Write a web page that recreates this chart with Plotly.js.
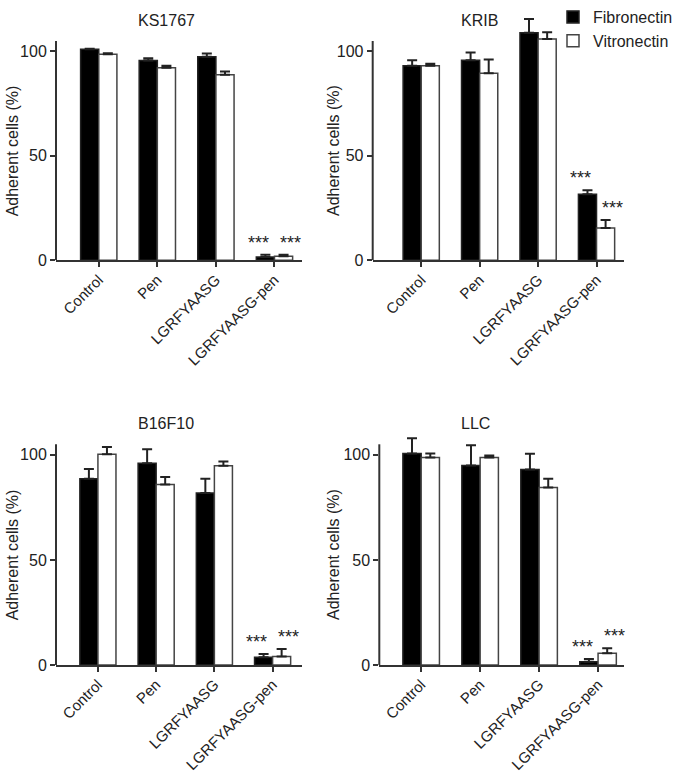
<!DOCTYPE html>
<html>
<head>
<meta charset="utf-8">
<script src="https://cdn.plot.ly/plotly-3.0.1.min.js"></script>
<style>html,body{margin:0;padding:0;background:#fff;}#chart{width:675px;height:774px;}</style>
</head>
<body>
<div id="chart"></div>
<script>
// ---- data ----
const categories = ['Control', 'Pen', 'LGRFYAASG', 'LGRFYAASG-pen'];
const seriesNames = ['Fibronectin', 'Vitronectin'];
const panelTitles = ['KS1767', 'KRIB', 'B16F10', 'LLC'];
const yTitle = 'Adherent cells (%)';
const yTicks = [0, 50, 100];
const sigLabel = '***';
const sigIndex = 3;

const ks1767Fib = [101.0, 95.7, 97.4, 1.6];
const ks1767FibErr = [0.3, 1.0, 1.6, 1.1];
const ks1767Vit = [98.6, 92.2, 88.8, 1.9];
const ks1767VitErr = [0.5, 0.9, 1.6, 0.8];

const kribFib = [93.1, 95.8, 108.9, 31.6];
const kribFibErr = [2.7, 3.7, 6.6, 1.9];
const kribVit = [93.1, 89.5, 106.0, 15.5];
const kribVitErr = [1.0, 6.7, 3.2, 3.8];

const b16f10Fib = [88.6, 96.0, 81.8, 3.7];
const b16f10FibErr = [4.7, 6.7, 6.8, 1.5];
const b16f10Vit = [100.3, 85.9, 94.8, 4.0];
const b16f10VitErr = [3.4, 3.5, 2.0, 3.6];

const llcFib = [100.6, 94.9, 93.0, 1.6];
const llcFibErr = [7.3, 9.7, 7.5, 1.3];
const llcVit = [98.7, 98.7, 84.4, 5.6];
const llcVitErr = [1.9, 1.0, 4.2, 2.4];

const panels = [
  {fib: ks1767Fib, fibErr: ks1767FibErr, vit: ks1767Vit, vitErr: ks1767VitErr},
  {fib: kribFib, fibErr: kribFibErr, vit: kribVit, vitErr: kribVitErr},
  {fib: b16f10Fib, fibErr: b16f10FibErr, vit: b16f10Vit, vitErr: b16f10VitErr},
  {fib: llcFib, fibErr: llcFibErr, vit: llcVit, vitErr: llcVitErr}
];

// ---- layout geometry (pixels) ----
const W = 675, H = 774;
const FONT = 'Arial, "Liberation Sans", sans-serif';
const AXIS_TOP = 105;   // drawn extent of the y axis line
const RANGE_TOP = 118;  // plotting range (lets tall bars / error bars show)
const geo = [
  {x0: 56, x1: 302, top: 41, bottom: 260.3, range: [-0.73, 3.47], titleX: 166, yTitleX: 12.7},
  {x0: 372.7, x1: 624, top: 41, bottom: 260.3, range: [-0.83, 3.47], titleX: 479.7, yTitleX: 333.3},
  {x0: 56, x1: 302.3, top: 444.3, bottom: 665, range: [-0.72, 3.51], titleX: 165.5, yTitleX: 12.7},
  {x0: 379.3, x1: 624, top: 444.3, bottom: 665, range: [-0.71, 3.44], titleX: 475.5, yTitleX: 333.3}
];

const traces = [];
const annotations = [];
const shapes = [];
const layout = {
  width: W, height: H,
  margin: {l: 0, r: 0, t: 0, b: 0, autoexpand: false},
  paper_bgcolor: '#fff', plot_bgcolor: '#fff',
  barmode: 'group', bargap: 0.38, bargroupgap: 0,
  font: {family: FONT, size: 16, color: '#222'},
  showlegend: true,
  legend: {xref: 'container', yref: 'container', x: 553 / W, xanchor: 'left', y: 1 + 5 / H, yanchor: 'top',
           font: {family: FONT, size: 16, color: '#222'}, bgcolor: 'rgba(0,0,0,0)',
           tracegroupgap: 0, itemwidth: 30},
  annotations: annotations,
  shapes: shapes
};

const zeros = [0, 0, 0, 0];

panels.forEach((p, i) => {
  const g = geo[i];
  const pxPerUnit = (g.bottom - g.top) / AXIS_TOP;
  const plotTop = g.bottom - RANGE_TOP * pxPerUnit;
  const sfx = i === 0 ? '' : String(i + 1);
  const xa = 'x' + sfx, ya = 'y' + sfx;
  const common = {
    type: 'bar', x: categories, xaxis: xa, yaxis: ya, cliponaxis: false,
    hoverinfo: 'skip'
  };
  traces.push(Object.assign({}, common, {
    name: seriesNames[0], y: p.fib, legendgroup: 'f', showlegend: i === 0,
    marker: {color: '#000', line: {color: '#222', width: 1.5}},
    error_y: {type: 'data', symmetric: false, array: p.fibErr, arrayminus: zeros,
              color: '#222', thickness: 2, width: 5}
  }));
  traces.push(Object.assign({}, common, {
    name: seriesNames[1], y: p.vit, legendgroup: 'v', showlegend: i === 0,
    marker: {color: '#fff', line: {color: '#444', width: 1.5}},
    error_y: {type: 'data', symmetric: false, array: p.vitErr, arrayminus: zeros,
              color: '#222', thickness: 2, width: 5}
  }));

  layout['xaxis' + sfx] = {
    domain: [g.x0 / W, g.x1 / W], range: g.range, anchor: ya,
    type: 'category', categoryorder: 'array', categoryarray: categories,
    showline: true, linecolor: '#333', linewidth: 2,
    ticks: 'outside', ticklen: 5, tickwidth: 2, tickcolor: '#333',
    tickangle: -45, ticklabelstandoff: -2,
    tickfont: {family: FONT, size: 15, color: '#222'},
    showgrid: false, zeroline: false, fixedrange: true, automargin: false
  };
  layout['yaxis' + sfx] = {
    domain: [1 - g.bottom / H, 1 - plotTop / H], range: [0, RANGE_TOP], anchor: xa,
    tickvals: yTicks, ticktext: yTicks.map(String),
    showline: false,
    ticks: 'outside', ticklen: 5, tickwidth: 2, tickcolor: '#333',
    tickfont: {family: FONT, size: 16, color: '#222'},
    showgrid: false, zeroline: false, fixedrange: true, automargin: false
  };
  // y axis line, only up to AXIS_TOP
  shapes.push({
    type: 'line', xref: xa + ' domain', x0: 0, x1: 0, yref: ya, y0: 0, y1: AXIS_TOP,
    line: {color: '#333', width: 2}, layer: 'above'
  });

  // panel title
  annotations.push({
    text: panelTitles[i], xref: 'paper', x: g.titleX / W, xanchor: 'center',
    yref: 'paper', y: 1 - (g.top - 21) / H, yanchor: 'middle', showarrow: false,
    font: {family: FONT, size: 16, color: '#222'}
  });
  // y axis title
  annotations.push({
    text: yTitle, xref: 'paper', x: g.yTitleX / W, xanchor: 'center',
    yref: 'paper', y: 1 - (g.top + g.bottom) / 2 / H, yanchor: 'middle', textangle: -90,
    showarrow: false, font: {family: FONT, size: 16, color: '#222'}
  });
  // significance marks
  [[p.fib, p.fibErr, -16], [p.vit, p.vitErr, 16]].forEach(([vals, errs, shift]) => {
    annotations.push({
      text: sigLabel, xref: xa, x: sigIndex, xshift: shift, xanchor: 'center',
      yref: ya, y: vals[sigIndex] + errs[sigIndex], yanchor: 'bottom', yshift: 0,
      showarrow: false, font: {family: FONT, size: 18, color: '#222'}
    });
  });
});

Plotly.newPlot('chart', traces, layout, {displayModeBar: false, staticPlot: true});
</script>
</body>
</html>
